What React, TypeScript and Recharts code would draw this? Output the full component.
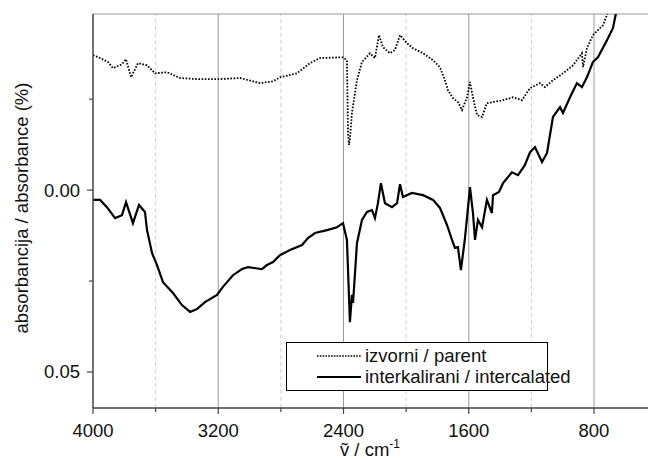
import React from 'react';
import { LineChart, Line, XAxis, YAxis, ReferenceLine } from 'recharts';

// wavenumbers (cm-1) and absorbance
const parentWavenumber = [
  4000, 3955, 3904, 3872, 3815, 3789, 3757, 3713, 3655, 3604, 3527, 3444, 3336, 3202, 3061,
  2933, 2850, 2806, 2697, 2614, 2550, 2403, 2378, 2371, 2365, 2359, 2346, 2314, 2282, 2231,
  2199, 2173, 2148, 2103, 2071, 2039, 1995, 1956, 1892, 1828, 1784, 1752, 1733, 1701, 1669,
  1643, 1611, 1592, 1573, 1547, 1515, 1484, 1445, 1381, 1317, 1260, 1209, 1145, 1113, 1062,
  998, 934, 877, 870, 845, 807, 743, 700,
];
const parentAbsorbance = [
  -0.0371, -0.0363, -0.0352, -0.0335, -0.0346, -0.036, -0.031, -0.0349, -0.0343, -0.0321,
  -0.0324, -0.0308, -0.0305, -0.0305, -0.0308, -0.0294, -0.0299, -0.031, -0.0321, -0.0349,
  -0.0363, -0.0365, -0.0357, -0.016, -0.0124, -0.014, -0.0212, -0.0302, -0.0352, -0.0376,
  -0.0363, -0.0426, -0.0393, -0.0376, -0.0385, -0.0426, -0.0404, -0.039, -0.0376, -0.0357,
  -0.0338, -0.0302, -0.0275, -0.0253, -0.0242, -0.022, -0.0255, -0.0297, -0.0255, -0.0206,
  -0.0201, -0.0239, -0.0242, -0.0247, -0.0255, -0.0247, -0.028, -0.0294, -0.0283, -0.0302,
  -0.0321, -0.0343, -0.0376, -0.0338, -0.039, -0.0426, -0.0453, -0.05,
];

const intercalatedWavenumber = [
  4000, 3955, 3911, 3859, 3815, 3789, 3745, 3706, 3668, 3655, 3623, 3591, 3553, 3489, 3432,
  3380, 3336, 3285, 3208, 3170, 3106, 3048, 3010, 2921, 2889, 2850, 2806, 2742, 2665, 2627,
  2582, 2505, 2442, 2403, 2378, 2359, 2346, 2339, 2314, 2282, 2250, 2218, 2199, 2180, 2161,
  2135, 2090, 2058, 2039, 2020, 1963, 1892, 1828, 1784, 1739, 1707, 1688, 1669, 1650, 1624,
  1592, 1573, 1560, 1541, 1515, 1484, 1452, 1445, 1407, 1381, 1324, 1285, 1241, 1209, 1177,
  1132, 1100, 1062, 1017, 998, 953, 909, 877, 845, 807, 775, 717, 679, 653,
];
const intercalatedAbsorbance = [
  0.0027, 0.0027, 0.0047, 0.0077, 0.0069, 0.0033, 0.0091, 0.0041, 0.006, 0.011, 0.0173, 0.0206,
  0.0253, 0.0283, 0.0316, 0.0335, 0.0327, 0.0308, 0.0288, 0.0266, 0.0234, 0.0217, 0.0212,
  0.0217, 0.0206, 0.0198, 0.0179, 0.0165, 0.0151, 0.0132, 0.0118, 0.011, 0.0102, 0.0091,
  0.0137, 0.0363, 0.0288, 0.031, 0.0146, 0.0082, 0.006, 0.0055, 0.0077, 0.0036, -0.0019,
  0.0036, 0.0047, 0.0036, -0.0016, 0.0019, 0.0008, 0.0014, 0.0027, 0.0049, 0.0096, 0.0137,
  0.0159, 0.0157, 0.022, 0.0132, -0.0008, 0.0063, 0.0137, 0.0082, 0.0102, 0.0027, 0.0063,
  0.0014, 0.0005, -0.0019, -0.0049, -0.0041, -0.0069, -0.0104, -0.0118, -0.0077, -0.0102,
  -0.0201, -0.0228, -0.0212, -0.0255, -0.0294, -0.0283, -0.031, -0.0352, -0.0365, -0.0412,
  -0.0445, -0.05,
];

const majorX = [4000, 3200, 2400, 1600, 800];
const minorX = [3600, 2800, 2000, 1200];
const majorY = [0, 0.05];
const minorY = [-0.025, 0.025];

const parentData = parentWavenumber.map((w, i) => ({ w, a: parentAbsorbance[i] }));
const intercalatedData = intercalatedWavenumber.map((w, i) => ({ w, a: intercalatedAbsorbance[i] }));

const FONT = '"Liberation Sans", Arial, sans-serif';
const TICK = 6;
const Y_TOP = -0.0484;

function XTick({ x, y, payload }: any) {
  const axisY = y - TICK;
  const major = majorX.includes(payload.value);
  return (
    <g>
      <line x1={x} x2={x} y1={axisY} y2={axisY + (major ? 6 : 4)} stroke="#444" strokeWidth={1.2} />
      {major && (
        <text x={x} y={axisY + 29} textAnchor="middle" fontSize={18.5} fontFamily={FONT} fill="#111">
          {payload.value}
        </text>
      )}
    </g>
  );
}

function YTick({ x, y, payload }: any) {
  const axisX = x + TICK;
  const major = majorY.includes(payload.value);
  return (
    <g>
      <line x1={axisX - (major ? 6 : 4)} x2={axisX} y1={y} y2={y} stroke="#444" strokeWidth={1.2} />
      {major && (
        <text x={axisX - 13} y={y + 6.5} textAnchor="end" fontSize={18.5} fontFamily={FONT} fill="#111">
          {payload.value.toFixed(2)}
        </text>
      )}
    </g>
  );
}

function LegendBox() {
  const row = (dash: string, w: number, label: string) => (
    <div style={{ display: 'flex', alignItems: 'center', height: 21, whiteSpace: 'nowrap' }}>
      <svg width={50} height={10} style={{ marginLeft: 28, flex: 'none' }}>
        <line x1={2} x2={46} y1={5} y2={5} stroke="#000" strokeWidth={w} strokeDasharray={dash} />
      </svg>
      <span>{label}</span>
    </div>
  );
  return (
    <div
      style={{
        position: 'absolute',
        left: 286,
        top: 342,
        width: 260,
        height: 45,
        border: '1px solid #000',
        background: '#fff',
        fontFamily: FONT,
        fontSize: 18.5,
        color: '#111',
        lineHeight: '21px',
        paddingTop: 2,
        boxSizing: 'content-box',
      }}
    >
      {row('1.6 1.2', 1.6, 'izvorni / parent')}
      {row('', 2, 'interkalirani / intercalated')}
    </div>
  );
}

export default function App() {
  return (
    <div style={{ position: 'absolute', left: 0, top: 0, width: 648, height: 459, background: '#fff' }}>
      <LineChart width={648} height={459} margin={{ top: 14, right: 0, bottom: 0, left: 0 }}>
        <XAxis
          dataKey="w"
          type="number"
          domain={[455, 4000]}
          reversed
          allowDataOverflow
          ticks={[...majorX, ...minorX]}
          interval={0}
          height={51}
          tickSize={TICK}
          tickMargin={0}
          tickLine={false}
          tick={(p: any) => <XTick {...p} />}
          axisLine={{ stroke: '#444', strokeWidth: 1.5 }}
        />
        <YAxis
          type="number"
          domain={[Y_TOP, 0.0599]}
          reversed
          allowDataOverflow
          ticks={[...minorY, ...majorY]}
          interval={0}
          width={93}
          tickSize={TICK}
          tickMargin={0}
          tickLine={false}
          tick={(p: any) => <YTick {...p} />}
          axisLine={{ stroke: '#444', strokeWidth: 1.5 }}
        />
        {majorX.slice(1).map((v) => (
          <ReferenceLine key={v} x={v} stroke="#9a9a9a" strokeWidth={1} />
        ))}
        {minorX.map((v) => (
          <ReferenceLine key={v} x={v} stroke="#cfcfcf" strokeWidth={1} strokeDasharray="4 3" />
        ))}
        <ReferenceLine y={Y_TOP} stroke="#9a9a9a" strokeWidth={1.2} />
        <Line
          data={parentData}
          dataKey="a"
          type="linear"
          stroke="#000"
          strokeWidth={1.8}
          strokeDasharray="1.6 1.6"
          dot={false}
          activeDot={false}
          isAnimationActive={false}
        />
        <Line
          data={intercalatedData}
          dataKey="a"
          type="linear"
          stroke="#000"
          strokeWidth={2.2}
          dot={false}
          activeDot={false}
          isAnimationActive={false}
        />
        <text x={370} y={456} textAnchor="middle" fontSize={18.5} fontFamily={FONT} fill="#111">
          {'ṽ / cm'}
          <tspan fontSize={12} dy={-8}>
            -1
          </tspan>
        </text>
        <text
          x={28}
          y={208}
          transform="rotate(-90 28 208)"
          textAnchor="middle"
          fontSize={18.5}
          fontFamily={FONT}
          fill="#111"
        >
          absorbancija / absorbance (%)
        </text>
      </LineChart>
      <LegendBox />
    </div>
  );
}
